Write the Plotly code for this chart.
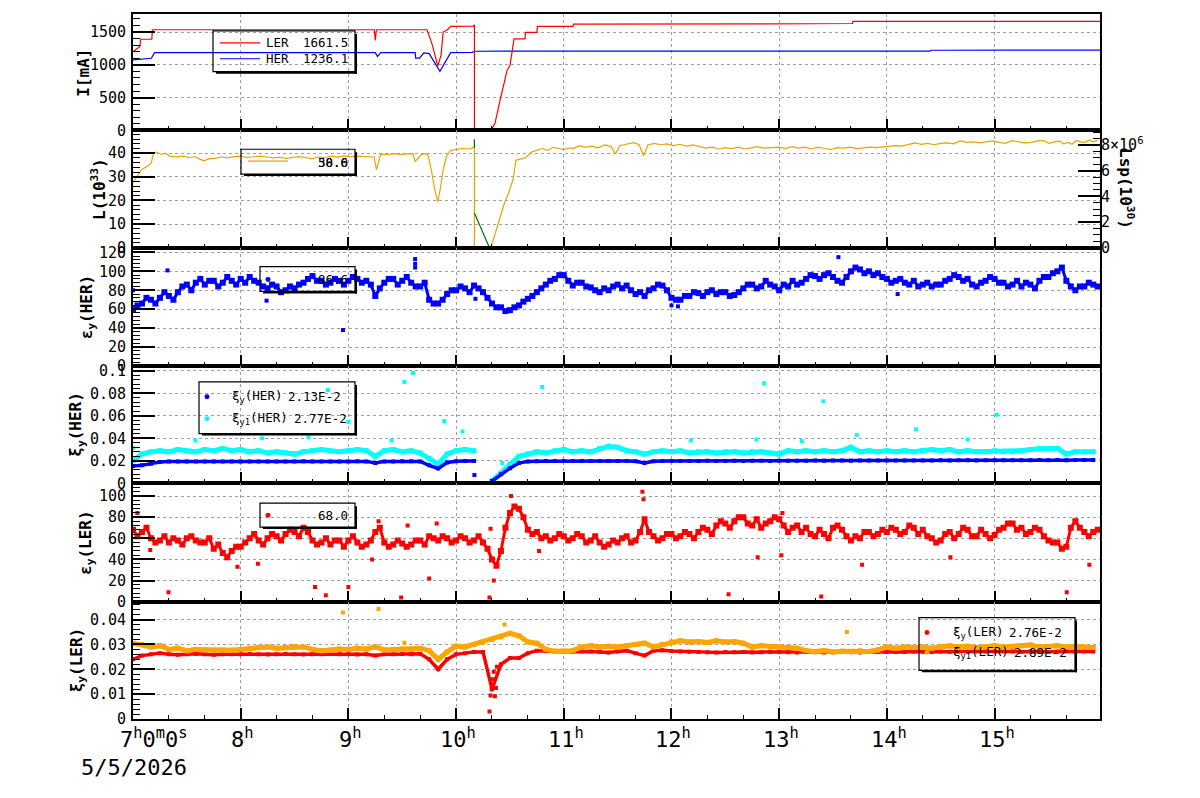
import plotly.graph_objects as go

# ---------------- data (hours of day) ----------------
ler_t = [7.0, 7.065, 7.07, 7.175, 7.18, 9.24, 9.25, 9.26, 9.73, 9.78, 9.83, 9.86, 9.88, 9.92, 9.95,
         10.16, 10.17, 10.17, 10.324, 10.361, 10.408, 10.473, 10.5, 10.528, 10.538, 10.64, 10.645,
         10.751, 10.755, 11.085, 11.09, 12.9, 13.68, 13.685, 15.979]
ler_i = [1200, 1280, 1390, 1390, 1535, 1535, 1370, 1535, 1535, 1300, 980, 1141, 1500, 1535, 1586,
         1590, 1610, 0, 0, 106, 459, 913, 989, 1292, 1394, 1394, 1495,
         1495, 1586, 1586, 1621, 1625, 1630, 1662, 1662]

her_t = [7.0, 7.17, 7.2, 9.25, 9.27, 9.3, 9.62, 9.625, 9.66, 9.7, 9.75, 9.85, 9.95, 10.15, 10.17,
         13.85, 13.87, 13.9, 14.4, 14.41, 15.979]
her_i = [1076, 1100, 1185, 1185, 1126, 1185, 1185, 1101, 1101, 1180, 1170, 900, 1185, 1190, 1207,
         1210, 1200, 1208, 1210, 1222, 1225]

lum_t = [7.00, 7.02, 7.05, 7.08, 7.12, 7.15, 7.17, 7.19, 7.22, 7.26, 7.30, 7.34, 7.40, 7.46, 7.52,
         7.58, 7.62, 7.66, 7.70, 7.76, 7.82, 7.88, 7.94, 8.00, 8.06, 8.12, 8.18, 8.24, 8.30, 8.36,
         8.42, 8.48, 8.54, 8.60, 8.66, 8.72, 8.78, 8.84, 8.90, 8.96, 9.02, 9.08, 9.14, 9.20, 9.24,
         9.26, 9.28, 9.30, 9.36, 9.42, 9.48, 9.54, 9.60, 9.62, 9.65, 9.68, 9.72, 9.74, 9.77, 9.80,
         9.83, 9.85, 9.88, 9.91, 9.95, 10.00, 10.06, 10.12, 10.17, 10.17, 10.32, 10.34, 10.40, 10.45,
         10.49, 10.53, 10.555, 10.60, 10.65, 10.70, 10.75, 10.80, 10.85, 10.90, 10.95, 11.00, 11.05,
         11.09, 11.15, 11.20, 11.26, 11.32, 11.38, 11.44, 11.48, 11.52, 11.58, 11.65, 11.70, 11.74,
         11.78, 11.84, 11.90, 11.96, 12.02, 12.08, 12.14, 12.20, 12.26, 12.32, 12.38, 12.44, 12.50,
         12.56, 12.62, 12.68, 12.74, 12.80, 12.86, 12.92, 13.00, 13.06, 13.12, 13.18, 13.24, 13.30,
         13.36, 13.42, 13.48, 13.54, 13.60, 13.66, 13.72, 13.78, 13.84, 13.90, 13.96, 14.02, 14.08,
         14.14, 14.20, 14.26, 14.32, 14.38, 14.44, 14.50, 14.56, 14.62, 14.68, 14.74, 14.80, 14.86,
         14.92, 14.98, 15.04, 15.10, 15.16, 15.22, 15.28, 15.34, 15.40, 15.46, 15.50, 15.56, 15.60,
         15.64, 15.68, 15.72, 15.76, 15.80, 15.84, 15.88, 15.92, 15.96]
lum_v = [27.4, 29, 31, 33, 34, 35, 36, 40, 40.5, 39.5, 40, 38.8, 38.5, 38.8, 38.2,
         38.5, 37.5, 36.8, 37.6, 37.8, 38.4, 38, 38.6, 38.8, 38.2, 38.5, 38.8, 38.4, 38, 38.3,
         37.8, 38.2, 38.6, 38.2, 37.6, 38.4, 38.2, 38.8, 38.4, 38.9, 38.5, 38.8, 38.6, 38.5, 38.4,
         33, 37, 39.6, 39.4, 39.8, 39.5, 39.7, 39.8, 36.5, 38, 39.5, 39.8, 39, 33, 25,
         19.4, 24, 33, 38.5, 41.2, 41.6, 42, 41.8, 42.6, 0, 0, 2.5, 12, 19,
         23.5, 29, 37, 37.6, 38.2, 40.5, 41.4, 42, 41.2, 42.5, 42, 41.5, 42.2,
         42.1, 43.2, 42.5, 43, 42.3, 43.5, 42.8, 39.7, 43.2, 43.8, 44.5, 43.6, 38.9,
         43.5, 44.2, 43.6, 44, 43.2, 43.8, 43, 43.5, 42.8, 42.2, 42.6, 41.7, 42.4,
         42, 42.6, 41.8, 42.3, 42.8, 42.2, 42.4, 42.6, 42, 42.8, 42.2, 42.6, 41.8,
         42.6, 42, 41.6, 42.4, 42.2, 42.6, 42, 42.3, 42.6, 42.4, 42.6, 43, 43.2,
         43, 43.6, 44.4, 43.8, 44.2, 43.6, 44.2, 44.4, 44, 45.2, 44.6, 44.8, 44.4,
         44.8, 45.2, 44.6, 44.2, 45.3, 44.8, 44.4, 44.6, 45.2, 45.4, 44.2, 44.8, 45.2,
         44, 44.6, 43.8, 45.4, 44.8, 44.6, 45.6, 44.8, 45.6]

# Lsp (specific luminosity): only the parts not hidden under L are visible
lsp_t = [10.17, 10.17, None, 10.17, 10.31]
lsp_v = [8.46, 7.8, None, 2.7, 0.0]

# 5-minute samples from 7:00 to 15:55 (a) and the samples 2.5 min later (b)
t5 = [7.0 + k * 5 / 60 for k in range(108)]
t5b = [t + 2.5 / 60 for t in t5]

ey_her = [60, 66, 70, 72, 74, 78, 86, 88, 86, 90, 88, 90,
          92, 94, 88, 82, 84, 80, 82, 88, 95, 90, 88, 90,
          90, 92, 90, 74, 88, 92, 90, 88, 84, 70, 66, 76,
          80, 82, 85, 78, 66, 62, 59, 64, 71, 78, 86, 92,
          96, 85, 88, 83, 78, 80, 86, 85, 76, 74, 82, 85,
          72, 70, 74, 77, 78, 76, 78, 75, 82, 86, 84, 86,
          80, 84, 86, 92, 95, 96, 94, 88, 100, 102, 100, 98,
          92, 90, 88, 90, 86, 84, 86, 92, 94, 92, 84, 90,
          92, 88, 86, 84, 86, 90, 94, 100, 90, 80, 84, 86]
ey_her_b = [64, 72, 66, 78, 70, 84, 80, 92, 90, 84, 94, 86,
            88, 90, 84, 86, 78, 84, 86, 92, 90, 86, 92, 86,
            94, 88, 86, 82, 92, 86, 94, 84, 88, 66, 70, 80,
            84, 78, 82, 72, 62, 58, 62, 68, 74, 82, 90, 96,
            90, 88, 84, 80, 82, 84, 82, 80, 78, 80, 86, 80,
            70, 74, 78, 74, 80, 78, 74, 78, 86, 82, 90, 84,
            86, 90, 88, 96, 92, 98, 90, 94, 104, 98, 96, 94,
            88, 92, 86, 84, 88, 86, 90, 96, 90, 86, 88, 94,
            88, 84, 90, 88, 82, 94, 98, 104, 84, 84, 88, 84]

xi_her = [0.0155, 0.016, 0.0175, 0.019, 0.0193, 0.0194, 0.0194, 0.0193, 0.0194, 0.0195, 0.0194, 0.0195,
          0.0195, 0.0194, 0.0195, 0.0195, 0.0194, 0.0195, 0.0195, 0.0196, 0.0195, 0.0194, 0.0195, 0.0195,
          0.0195, 0.0196, 0.0195, 0.018, 0.0195, 0.0195, 0.0196, 0.0196, 0.0195, 0.016, 0.0132, 0.0185,
          0.0197, 0.0198, 0.0198, None, 0.002, 0.008, 0.0135, 0.018, 0.0195, 0.0197, 0.0198, 0.0198,
          0.0199, 0.0198, 0.0199, 0.0199, 0.0198, 0.0199, 0.0199, 0.0198, 0.0196, 0.018, 0.0197, 0.0199,
          0.0199, 0.0199, 0.0198, 0.0199, 0.02, 0.0199, 0.0199, 0.02, 0.0199, 0.02, 0.02, 0.0199,
          0.02, 0.0201, 0.02, 0.0201, 0.0202, 0.0201, 0.0202, 0.0202, 0.0201, 0.0202, 0.0203, 0.0202,
          0.0203, 0.0203, 0.0204, 0.0203, 0.0204, 0.0204, 0.0205, 0.0204, 0.0205, 0.0205, 0.0204, 0.0205,
          0.0205, 0.0206, 0.0205, 0.0206, 0.0206, 0.0207, 0.0206, 0.0207, 0.0206, 0.0207, 0.0207, 0.0208]

xi1_her = [0.020, 0.026, 0.028, 0.029, 0.028, 0.030, 0.029, 0.028, 0.030, 0.029, 0.031, 0.029,
           0.030, 0.028, 0.029, 0.027, 0.028, 0.027, 0.026, 0.028, 0.029, 0.030, 0.029, 0.028,
           0.029, 0.030, 0.029, 0.024, 0.029, 0.030, 0.028, 0.029, 0.027, 0.022, 0.017, 0.026,
           0.029, 0.030, 0.029, None, 0.002, 0.009, 0.017, 0.024, 0.026, 0.028, 0.027, 0.029,
           0.030, 0.028, 0.029, 0.028, 0.031, 0.033, 0.032, 0.029, 0.028, 0.026, 0.028, 0.029,
           0.028, 0.029, 0.027, 0.028, 0.028, 0.027, 0.028, 0.028, 0.027, 0.028, 0.028, 0.027,
           0.026, 0.029, 0.028, 0.029, 0.028, 0.029, 0.028, 0.029, 0.032, 0.028, 0.029, 0.028,
           0.029, 0.028, 0.029, 0.028, 0.029, 0.030, 0.029, 0.030, 0.028, 0.029, 0.028, 0.028,
           0.029, 0.028, 0.028, 0.029, 0.030, 0.031, 0.031, 0.031, 0.026, 0.028, 0.028, 0.028]

ey_ler = [68, 66, 60, 58, 56, 58, 60, 58, 56, 50, 46, 48,
          52, 60, 58, 60, 62, 64, 66, 70, 58, 56, 54, 58,
          58, 56, 54, 66, 56, 54, 55, 54, 58, 62, 58, 60,
          58, 60, 58, 56, 40, 48, 84, 88, 68, 66, 62, 60,
          62, 60, 62, 58, 56, 54, 56, 62, 58, 78, 62, 60,
          64, 62, 64, 66, 68, 72, 74, 76, 80, 72, 70, 76,
          78, 66, 72, 70, 62, 64, 70, 68, 58, 60, 66, 64,
          66, 68, 66, 70, 68, 60, 58, 66, 64, 68, 62, 64,
          63, 70, 74, 70, 66, 68, 58, 56, 52, 76, 66, 66]
ey_ler_b = [62, 70, 56, 62, 60, 54, 62, 56, 60, 54, 42, 52,
            56, 64, 54, 64, 58, 68, 62, 66, 54, 60, 58, 52,
            62, 52, 58, 70, 52, 58, 52, 58, 54, 60, 62, 56,
            62, 56, 62, 50, 34, 70, 90, 80, 64, 60, 58, 64,
            58, 64, 56, 62, 52, 58, 60, 56, 66, 66, 58, 64,
            60, 66, 60, 70, 64, 76, 70, 80, 74, 78, 74, 80,
            72, 70, 66, 64, 68, 60, 72, 62, 62, 66, 62, 68,
            70, 64, 72, 64, 62, 56, 64, 60, 70, 62, 68, 60,
            68, 74, 68, 64, 70, 62, 56, 50, 70, 70, 62, 68]

xi_ler = [0.024, 0.0255, 0.026, 0.0265, 0.026, 0.0258, 0.026, 0.0262, 0.026, 0.0258, 0.026, 0.026,
          0.026, 0.0261, 0.026, 0.0259, 0.026, 0.0261, 0.026, 0.0259, 0.026, 0.026, 0.0261, 0.026,
          0.026, 0.0259, 0.026, 0.0255, 0.026, 0.026, 0.0261, 0.026, 0.0262, 0.024, 0.020, 0.024,
          0.026, 0.0265, 0.027, 0.027, 0.012, 0.022, 0.0245, 0.0245, 0.0265, 0.0275, 0.0275, 0.0272,
          0.0271, 0.0272, 0.0273, 0.0272, 0.0270, 0.0268, 0.0272, 0.0275, 0.0265, 0.0255, 0.0275, 0.0277,
          0.0274, 0.0272, 0.0271, 0.027, 0.0269, 0.0268, 0.027, 0.0269, 0.027, 0.0268, 0.0269, 0.027,
          0.027, 0.0269, 0.0268, 0.027, 0.0269, 0.0268, 0.0269, 0.027, 0.0269, 0.0268, 0.027, 0.0271,
          0.027, 0.0271, 0.027, 0.0272, 0.0271, 0.027, 0.0272, 0.0271, 0.0272, 0.0271, 0.0273, 0.0272,
          0.0272, 0.0273, 0.0272, 0.0271, 0.0273, 0.0272, 0.0271, 0.0272, 0.0273, 0.0272, 0.0273, 0.0272]

xi1_ler = [0.0305, 0.030, 0.029, 0.0295, 0.028, 0.0285, 0.0275, 0.0280, 0.0278, 0.0276, 0.0278, 0.0277,
           0.0280, 0.0285, 0.0288, 0.0290, 0.0285, 0.0288, 0.0292, 0.029, 0.028, 0.0275, 0.0278, 0.0282,
           0.028, 0.0285, 0.0282, 0.029, 0.0278, 0.028, 0.0282, 0.028, 0.0285, 0.0275, 0.024, 0.027,
           0.0293, 0.029, 0.030, 0.031, 0.032, 0.033, 0.0345, 0.0335, 0.031, 0.0305, 0.028, 0.0273,
           0.0273, 0.0275, 0.029, 0.0295, 0.029, 0.0293, 0.029, 0.0295, 0.030, 0.0305, 0.029, 0.030,
           0.031, 0.0315, 0.031, 0.0312, 0.0308, 0.0315, 0.031, 0.0312, 0.0305, 0.029, 0.0295, 0.029,
           0.029, 0.0288, 0.0285, 0.0275, 0.0272, 0.0275, 0.027, 0.0273, 0.0272, 0.0275, 0.0272, 0.0278,
           0.029, 0.0285, 0.029, 0.0288, 0.029, 0.0285, 0.0292, 0.0295, 0.029, 0.0293, 0.0288, 0.0292,
           0.0295, 0.029, 0.0292, 0.0295, 0.0298, 0.029, 0.0292, 0.0295, 0.029, 0.0293, 0.029, 0.0288]

# isolated points
ey_her_out_t = [7.0, 7.32, 8.24, 8.95, 9.62, 9.62, 9.62, 10.18, 12.0, 12.06, 13.55, 14.1]
ey_her_out_v = [80, 101, 69, 38, 113, 108, 104, 71, 64, 63, 115, 76]
xi1_her_out_t = [7.0, 7.58, 8.2, 8.63, 8.81, 9.0, 9.4, 9.52, 9.6, 9.89, 10.06, 10.43, 10.8, 12.18,
                 12.79, 12.86, 13.21, 13.41, 13.72, 14.27, 14.75, 15.02]
xi1_her_out_v = [0.0315, 0.038, 0.040, 0.041, 0.083, 0.0546, 0.038, 0.090, 0.098, 0.0555, 0.046, 0.018,
                 0.0856, 0.038, 0.039, 0.089, 0.0377, 0.073, 0.043, 0.048, 0.039, 0.061]
xi_her_out_t = [10.17]
xi_her_out_v = [0.0075]
ey_ler_out_t = [7.04, 7.16, 7.33, 7.97, 8.16, 8.69, 8.79, 9.0, 9.22, 9.28, 9.49, 9.55, 9.75, 9.82,
                10.31, 10.32, 10.35, 10.51, 10.77, 11.73, 11.74, 12.53, 12.8, 13.02, 13.03, 13.39,
                13.77, 14.59, 15.67, 15.88]
ey_ler_out_v = [84, 49, 9, 33, 36, 14, 6, 14, 40, 76, 4, 72, 22, 74,
                4, 69, 20, 100, 48, 104, 97, 7, 42, 44, 84, 5,
                35, 42, 9, 35]
xi_ler_out_t = [10.31, 10.32, 10.33, 10.34, 10.35, 10.36, 10.37, 10.38]
xi_ler_out_v = [0.003, 0.0095, 0.012, 0.016, 0.019, 0.0092, 0.0125, 0.021]
xi1_ler_out_t = [8.95, 9.28, 9.52, 10.45, 13.63]
xi1_ler_out_v = [0.0428, 0.0443, 0.0307, 0.038, 0.035]

hour_ticks = [8, 9, 10, 11, 12, 13, 14, 15]

# ---------------- layout geometry ----------------
W, H = 1200, 798
ML, MR, MT, MB = 133, 100, 10, 79
PW = W - ML - MR
PH = H - MT - MB


def px(x):
    return (x - ML) / PW


def py(y):
    return (H - MB - y) / PH


bounds = [10, 127, 245, 364, 482, 601, 719]
domains = [[py(bounds[i + 1]), py(bounds[i])] for i in range(6)]
XR = [7.0, 15.979]

yranges = [[0, 1775], [0, 49.7], [0, 125], [0, 0.1043], [0, 112], [0, 0.0472]]
ydticks = [500, 10, 20, 0.02, 20, 0.01]
yminor = [100, 2, 4, 0.004, 4, 0.002]

MONO = "DejaVu Sans Mono"
GRID = "#a0a0a0"

fig = go.Figure()


def interleave(ta, va, tb, vb):
    t, v = [], []
    for a1, a2, b1, b2 in zip(ta, va, tb, vb):
        t += [a1, b1]
        v += [a2, b2]
    return t, v


def add(x, y, i, color, mode, lw=1, ms=4, sym="square"):
    ax = "" if i == 1 else str(i)
    kw = dict(x=x, y=y, xaxis="x" + ax, yaxis="y" + ax, mode=mode, showlegend=False,
              hoverinfo="skip", connectgaps=False)
    if "lines" in mode:
        kw["line"] = dict(color=color, width=lw)
    if "markers" in mode:
        kw["marker"] = dict(color=color, size=ms, symbol=sym, line=dict(width=0))
    fig.add_trace(go.Scatter(**kw))


# panel 1
add(her_t, her_i, 1, "#0000ff", "lines", 1.2)
add(ler_t, ler_i, 1, "#ff0000", "lines", 1.2)
# panel 2
add(lum_t, lum_v, 2, "#eaa400", "lines", 1.2)
fig.add_trace(go.Scatter(x=lsp_t, y=lsp_v, xaxis="x2", yaxis="y7", mode="lines",
                         line=dict(color="#007000", width=1.2), showlegend=False,
                         hoverinfo="skip", connectgaps=False))
# panel 3
th, vh = interleave(t5, ey_her, t5b, ey_her_b)
add(th, vh, 3, "#0000ff", "lines+markers", 3, 6)
add(ey_her_out_t, ey_her_out_v, 3, "#0000ff", "markers", 1, 4)
# panel 4
add(t5, xi1_her, 4, "#00ffff", "lines+markers", 5, 5)
add(xi1_her_out_t, xi1_her_out_v, 4, "#00ffff", "markers", 1, 4)
add(t5, xi_her, 4, "#0000ff", "lines+markers", 3.5, 4)
add(xi_her_out_t, xi_her_out_v, 4, "#0000ff", "markers", 1, 4)
# panel 5
tl, vl = interleave(t5, ey_ler, t5b, ey_ler_b)
add(tl, vl, 5, "#ff0000", "lines+markers", 3, 6)
add(ey_ler_out_t, ey_ler_out_v, 5, "#ff0000", "markers", 1, 4)
# panel 6
add(t5, xi_ler, 6, "#ff0000", "lines+markers", 3.5, 4)
add(xi_ler_out_t, xi_ler_out_v, 6, "#ff0000", "markers", 1, 4)
add(t5, xi1_ler, 6, "#ffa500", "lines+markers", 5, 5)
add(xi1_ler_out_t, xi1_ler_out_v, 6, "#ffa500", "markers", 1, 4)

layout = dict(width=W, height=H, margin=dict(l=ML, r=MR, t=MT, b=MB),
              paper_bgcolor="white", plot_bgcolor="white", showlegend=False,
              font=dict(family=MONO, size=15, color="black"))

for i in range(6):
    ax = "" if i == 0 else str(i + 1)
    xa = dict(domain=[0, 1], anchor="y" + ax, range=XR, showticklabels=False,
              tickmode="linear", tick0=7, dtick=1, ticks="inside", ticklen=11, tickwidth=2,
              tickcolor="black",
              minor=dict(ticks="inside", ticklen=4, tickwidth=1, tickcolor="black",
                         tick0=7, dtick=1 / 3, showgrid=False),
              showgrid=True, gridcolor=GRID, griddash="dot", gridwidth=1,
              showline=True, linecolor="black", linewidth=2, mirror=True, zeroline=False)
    if i > 0:
        xa["matches"] = "x"
    layout["xaxis" + ax] = xa
    ya = dict(domain=domains[i], anchor="x" + ax, range=yranges[i], tickmode="linear",
              tick0=0, dtick=ydticks[i], ticks="inside", ticklen=22, tickwidth=2,
              tickcolor="black",
              minor=dict(ticks="inside", ticklen=7, tickwidth=1, tickcolor="black",
                         dtick=yminor[i], showgrid=False),
              showgrid=True, gridcolor=GRID, griddash="dot", gridwidth=1,
              showline=True, linecolor="black", linewidth=2, mirror=True, zeroline=False,
              tickfont=dict(family=MONO, size=15), ticklabelstandoff=2)
    layout["yaxis" + ax] = ya

layout["yaxis7"] = dict(overlaying="y2", anchor="x2", side="right", range=[0, 9.15],
                        tickmode="array", tickvals=[0, 2, 4, 6, 8],
                        ticktext=["0", "2", "4", "6", "8\u00d710<sup>6</sup>"],
                        ticks="inside", ticklen=22, tickwidth=2, tickcolor="black",
                        minor=dict(ticks="inside", ticklen=7, tickwidth=1, tickcolor="black",
                                   tickmode="linear", tick0=0, dtick=0.5, showgrid=False),
                        showgrid=False, showline=False, zeroline=False,
                        tickfont=dict(family=MONO, size=15))

shapes = []
annos = []


def legend_box(x0, y0, x1, y1):
    shapes.append(dict(type="rect", xref="paper", yref="paper", x0=px(x0), x1=px(x1),
                       y0=py(y1), y1=py(y0), line=dict(color="black", width=1.2),
                       fillcolor="rgba(0,0,0,0)", layer="above"))
    shapes.append(dict(type="rect", xref="paper", yref="paper", x0=px(x1), x1=px(x1 + 2),
                       y0=py(y1 + 2), y1=py(y0 + 3), line=dict(width=0),
                       fillcolor="black", layer="above"))
    shapes.append(dict(type="rect", xref="paper", yref="paper", x0=px(x0 + 3), x1=px(x1 + 2),
                       y0=py(y1 + 2), y1=py(y1), line=dict(width=0),
                       fillcolor="black", layer="above"))


def ltext(x, y, s, anchor="left", size=12.5):
    annos.append(dict(xref="paper", yref="paper", x=px(x), y=py(y), text=s, showarrow=False,
                      xanchor=anchor, yanchor="middle", font=dict(family=MONO, size=size,
                                                                   color="black")))


def lline(x0, x1, y, color):
    shapes.append(dict(type="line", xref="paper", yref="paper", x0=px(x0), x1=px(x1),
                       y0=py(y), y1=py(y), line=dict(color=color, width=1.2), layer="above"))


def ldot(x, y, color, r=2.5):
    shapes.append(dict(type="circle", xref="paper", yref="paper", x0=px(x - r), x1=px(x + r),
                       y0=py(y + r), y1=py(y - r), line=dict(width=0), fillcolor=color,
                       layer="above"))


# panel 1 legend
legend_box(213, 27, 355, 68)
lline(220, 260, 39, "#ff0000")
lline(220, 260, 55, "#0000ff")
ltext(264, 39, "LER")
ltext(350, 39, "1661.5", "right")
ltext(264, 55, "HER")
ltext(350, 55, "1236.1", "right")
# panel 2 legend
legend_box(241, 146, 355, 171)
lline(248, 288, 158, "#eaa400")
ltext(350, 159, "50.0", "right")
ltext(350, 159, "38.6", "right")
# panel 3 legend
legend_box(260, 264, 355, 289)
ldot(268, 277, "#0000ff")
ltext(350, 277, "86.6", "right")
# panel 4 legend
legend_box(199, 380, 355, 432)
ldot(207, 395, "#0000ff")
ldot(207, 417, "#00ffff")
ltext(230, 395, "\u03be<sub>y</sub>(HER)")
ltext(343, 395, "2.13E-2", "right")
ltext(230, 417, "\u03be<sub>y1</sub>(HER)")
ltext(349, 417, "2.77E-2", "right")
# panel 5 legend
legend_box(260, 502, 355, 526)
ldot(268, 514, "#ff0000")
ltext(350, 514, "68.0", "right")
# panel 6 legend
legend_box(919, 617, 1075, 670)
ldot(927, 632, "#ff0000")
ldot(927, 652, "#ffa500")
ltext(951, 632, "\u03be<sub>y</sub>(LER)")
ltext(1064, 632, "2.76E-2", "right")
ltext(951, 652, "\u03be<sub>y1</sub>(LER)")
ltext(1069, 652, "2.89E-2", "right")

# axis titles
titles = [("<b>I[mA]</b>", 84, 69), ("<b>L(10<sup>33</sup>)</b>", 98, 186),
          ("<b>\u03b5<sub>y</sub>(HER)</b>", 87, 305), ("<b>\u03be<sub>y</sub>(HER)</b>", 77, 423),
          ("<b>\u03b5<sub>y</sub>(LER)</b>", 87, 542), ("<b>\u03be<sub>y</sub>(LER)</b>", 77, 660)]
for s, x, y in titles:
    annos.append(dict(xref="paper", yref="paper", x=px(x), y=py(y), text=s, showarrow=False,
                      textangle=-90, xanchor="center", yanchor="middle",
                      font=dict(family=MONO, size=16, color="black")))
annos.append(dict(xref="paper", yref="paper", x=px(1127), y=py(185),
                  text="<b>Lsp(10<sup>30</sup>)</b>", showarrow=False, textangle=90,
                  xanchor="center", yanchor="middle",
                  font=dict(family=MONO, size=16, color="black")))

# time labels
annos.append(dict(xref="paper", yref="paper", x=px(118), y=py(754),
                  text="7<sup>h</sup>0<sup>m</sup>0<sup>s</sup>", showarrow=False,
                  xanchor="left", yanchor="bottom", font=dict(family=MONO, size=22, color="black")))
for h in hour_ticks:
    annos.append(dict(xref="x6", yref="paper", x=h, y=py(754), text="%d<sup>h</sup>" % h,
                      showarrow=False, xanchor="center", yanchor="bottom", xshift=2,
                      font=dict(family=MONO, size=22, color="black")))
annos.append(dict(xref="paper", yref="paper", x=px(79), y=py(782), text="5/5/2026",
                  showarrow=False, xanchor="left", yanchor="bottom",
                  font=dict(family=MONO, size=22, color="black")))

layout["shapes"] = shapes
layout["annotations"] = annos
fig.update_layout(**layout)
fig.write_html("out.html")
